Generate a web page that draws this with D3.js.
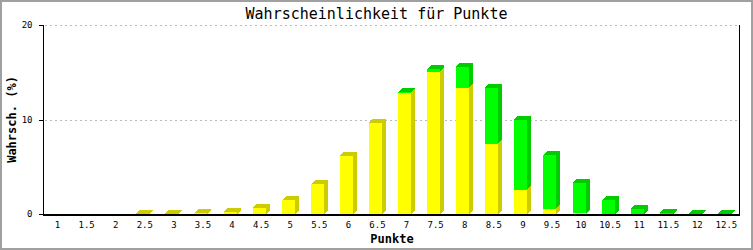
<!DOCTYPE html>
<html>
<head>
<meta charset="utf-8">
<script src="https://cdn.jsdelivr.net/npm/d3@7"></script>
<style>
  html, body { margin: 0; padding: 0; background: #fff; }
  svg { display: block; }
</style>
</head>
<body>
<svg id="chart" width="753" height="250"></svg>
<script>
// ---- data ----
const categories = ["1","1.5","2","2.5","3","3.5","4","4.5","5","5.5","6","6.5","7","7.5","8","8.5","9","9.5","10","10.5","11","11.5","12","12.5"];
const yellowValues = [0,0,0,0.03,0.05,0.08,0.25,0.65,1.48,3.17,6.14,9.66,12.84,15.06,13.37,7.41,2.54,0.53,0.1,0,0,0,0,0];
const greenValues  = [0,0,0,0,0,0,0,0,0,0,0,0,0.05,0.28,2.22,5.96,7.41,5.71,3.21,1.48,0.53,0.15,0.04,0.04];
const yTicks = [0, 10, 20];
const title = "Wahrscheinlichkeit für Punkte";
const xTitle = "Punkte";
const yTitle = "Wahrsch. (%)";

// ---- layout ----
const W = 753, H = 250;
const plotLeft = 43, plotRight = 741, plotTop = 25, plotBottom = 214;
const barW = 13, depth = 4;
const mono = "'DejaVu Sans Mono', 'Liberation Mono', monospace";

const svg = d3.select("#chart");

const x = d3.scaleBand().domain(categories).range([plotLeft, plotRight]).padding(0);
const y = d3.scaleLinear().domain([0, 20]).range([plotBottom, plotTop]);

// border
svg.append("rect").attr("x", 1).attr("y", 1).attr("width", W - 2).attr("height", H - 2)
  .attr("fill", "#fff").attr("stroke", "#a0a0a0").attr("stroke-width", 2);

// grid lines
svg.append("g").selectAll("line").data(yTicks.filter(d => d > 0)).join("line")
  .attr("x1", plotLeft + 2).attr("x2", plotRight - 1)
  .attr("y1", d => Math.round(y(d)) + 0.5).attr("y2", d => Math.round(y(d)) + 0.5)
  .attr("stroke", "#bbbbbb").attr("stroke-dasharray", "2,3");

// bars
const series = [
  { values: yellowValues, front: "#ffff00", shade: "#cccc00" },
  { values: greenValues,  front: "#00ff00", shade: "#00cc00" }
];
const gBars = svg.append("g").attr("shape-rendering", "crispEdges");
categories.forEach((c, i) => {
  let base = 0;
  series.forEach(s => {
    const v = s.values[i];
    if (!(v > 0)) return;
    const y0 = y(base), y1 = y(base + v);
    const cx = x(c) + x.bandwidth() / 2;
    const x0 = Math.round(cx - (barW + depth) / 2), x1 = x0 + barW;
    gBars.append("polygon")
      .attr("points", [[x1, y0], [x1 + depth, y0 - depth], [x1 + depth, y1 - depth], [x1, y1]].map(p => p.join(",")).join(" "))
      .attr("fill", s.shade);
    gBars.append("polygon")
      .attr("points", [[x0, y1], [x0 + depth, y1 - depth], [x1 + depth, y1 - depth], [x1, y1]].map(p => p.join(",")).join(" "))
      .attr("fill", s.shade);
    gBars.append("rect")
      .attr("x", x0).attr("y", y1).attr("width", barW).attr("height", Math.max(0, y0 - y1))
      .attr("fill", s.front);
    base += v;
  });
});

// axes lines
const axisG = svg.append("g").attr("shape-rendering", "crispEdges");
axisG.append("line").attr("x1", plotLeft + 0.5).attr("x2", plotLeft + 0.5).attr("y1", plotTop).attr("y2", plotBottom + 1)
  .attr("stroke", "#000");
axisG.append("line").attr("x1", plotRight - 1.5).attr("x2", plotRight - 1.5).attr("y1", plotTop).attr("y2", plotBottom + 1)
  .attr("stroke", "#000");
axisG.append("line").attr("x1", plotLeft).attr("x2", plotRight - 1).attr("y1", plotBottom + 0.5).attr("y2", plotBottom + 0.5)
  .attr("stroke", "#000").attr("stroke-width", 2);

// y ticks
const yAxis = d3.axisLeft(y).tickValues(yTicks).tickSize(5).tickPadding(6).tickFormat(d3.format("d"));
const gy = svg.append("g").attr("transform", `translate(${plotLeft + 0.5},0)`).call(yAxis);
gy.select(".domain").remove();
gy.selectAll(".tick line").attr("stroke", "#000").attr("shape-rendering", "crispEdges");
gy.selectAll(".tick text").attr("font-family", mono).attr("font-size", 9).attr("fill", "#000");

// x labels
const xAxis = d3.axisBottom(x).tickSize(0).tickPadding(8);
const gx = svg.append("g").attr("transform", `translate(0,${plotBottom})`).call(xAxis);
gx.select(".domain").remove();
gx.selectAll(".tick text").attr("font-family", mono).attr("font-size", 9).attr("fill", "#000");

// titles
svg.append("text").attr("x", W / 2).attr("y", 19).attr("text-anchor", "middle")
  .attr("font-family", mono).attr("font-size", 15).attr("fill", "#000").text(title);
svg.append("text").attr("x", (plotLeft + plotRight) / 2).attr("y", 243).attr("text-anchor", "middle")
  .attr("font-family", mono).attr("font-size", 12).attr("font-weight", "bold").attr("fill", "#000").text(xTitle);
svg.append("text").attr("transform", `translate(16,${(plotTop + plotBottom) / 2}) rotate(-90)`).attr("text-anchor", "middle")
  .attr("font-family", mono).attr("font-size", 12).attr("font-weight", "bold").attr("fill", "#000").text(yTitle);
</script>
</body>
</html>
